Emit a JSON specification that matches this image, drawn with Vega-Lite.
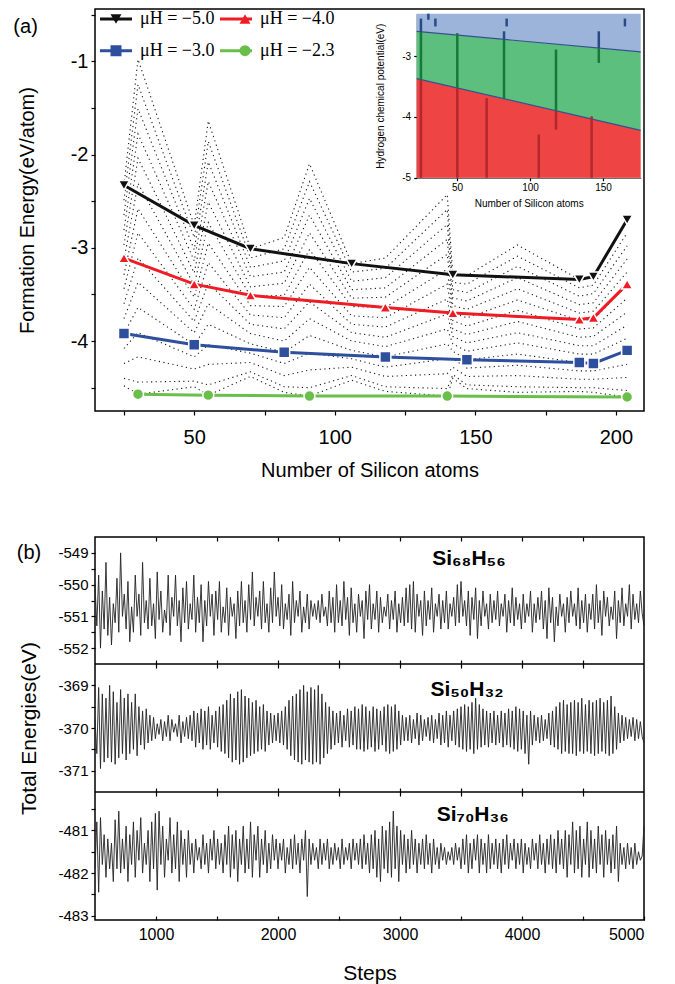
{
"$schema": "https://vega.github.io/schema/vega-lite/v6.json",
"background": "white",
"padding": {"left": 12, "top": 8, "right": 4, "bottom": 2},
"spacing": 54,
"config": {
 "font": "Liberation Sans",
 "view": {"stroke": "#000", "strokeWidth": 1.5},
 "axis": {"grid": false, "domain": false, "tickColor": "#000", "tickWidth": 1.2, "labelColor": "#000", "titleColor": "#000", "labelFont": "Liberation Sans", "titleFont": "Liberation Sans", "titleFontWeight": "normal"},
 "legend": {"labelFont": "Liberation Serif", "labelFontSize": 18, "labelColor": "#000", "padding": 0},
 "text": {"font": "Liberation Sans", "color": "#000"}
},
"resolve": {"scale": {"stroke": "independent", "fill": "independent", "shape": "independent"}, "legend": {"stroke": "independent", "fill": "independent", "shape": "independent"}},
"datasets": {
 "ser": [
  {"s":"μH = −5.0","n":25,"e":-2.33},{"s":"μH = −5.0","n":50,"e":-2.76},{"s":"μH = −5.0","n":70,"e":-3.01},{"s":"μH = −5.0","n":106,"e":-3.17},{"s":"μH = −5.0","n":142,"e":-3.29},{"s":"μH = −5.0","n":187,"e":-3.34},{"s":"μH = −5.0","n":192,"e":-3.31},{"s":"μH = −5.0","n":204,"e":-2.7},
  {"s":"μH = −4.0","n":25,"e":-3.11},{"s":"μH = −4.0","n":50,"e":-3.39},{"s":"μH = −4.0","n":70,"e":-3.51},{"s":"μH = −4.0","n":118,"e":-3.64},{"s":"μH = −4.0","n":142,"e":-3.7},{"s":"μH = −4.0","n":187,"e":-3.77},{"s":"μH = −4.0","n":192,"e":-3.75},{"s":"μH = −4.0","n":204,"e":-3.39},
  {"s":"μH = −3.0","n":25,"e":-3.92},{"s":"μH = −3.0","n":50,"e":-4.04},{"s":"μH = −3.0","n":82,"e":-4.12},{"s":"μH = −3.0","n":118,"e":-4.17},{"s":"μH = −3.0","n":147,"e":-4.2},{"s":"μH = −3.0","n":187,"e":-4.23},{"s":"μH = −3.0","n":192,"e":-4.24},{"s":"μH = −3.0","n":204,"e":-4.1},
  {"s":"μH = −2.3","n":30,"e":-4.57},{"s":"μH = −2.3","n":55,"e":-4.58},{"s":"μH = −2.3","n":91,"e":-4.59},{"s":"μH = −2.3","n":140,"e":-4.59},{"s":"μH = −2.3","n":204,"e":-4.6}
 ],
 "dots": [
  {"n":25,"m":-5,"e":-2.33},{"n":25,"m":-4.8,"e":-2.49},{"n":25,"m":-4.6,"e":-2.65},{"n":25,"m":-4.4,"e":-2.81},{"n":25,"m":-4.2,"e":-2.97},{"n":25,"m":-4,"e":-3.13},{"n":25,"m":-3.8,"e":-3.29},{"n":25,"m":-3.6,"e":-3.44},{"n":25,"m":-3.4,"e":-3.6},{"n":25,"m":-3.2,"e":-3.76},{"n":25,"m":-3,"e":-3.92},{"n":25,"m":-2.8,"e":-4.08},{"n":25,"m":-2.6,"e":-4.24},{"n":25,"m":-2.4,"e":-4.4},{"n":25,"m":-2.3,"e":-4.48},
  {"n":30,"m":-5,"e":-0.98},{"n":30,"m":-4.8,"e":-1.25},{"n":30,"m":-4.6,"e":-1.51},{"n":30,"m":-4.4,"e":-1.78},{"n":30,"m":-4.2,"e":-2.04},{"n":30,"m":-4,"e":-2.31},{"n":30,"m":-3.8,"e":-2.58},{"n":30,"m":-3.6,"e":-2.84},{"n":30,"m":-3.4,"e":-3.11},{"n":30,"m":-3.2,"e":-3.37},{"n":30,"m":-3,"e":-3.64},{"n":30,"m":-2.8,"e":-3.91},{"n":30,"m":-2.6,"e":-4.17},{"n":30,"m":-2.4,"e":-4.44},{"n":30,"m":-2.3,"e":-4.57},
  {"n":50,"m":-5,"e":-2.76},{"n":50,"m":-4.8,"e":-2.89},{"n":50,"m":-4.6,"e":-3.02},{"n":50,"m":-4.4,"e":-3.14},{"n":50,"m":-4.2,"e":-3.27},{"n":50,"m":-4,"e":-3.4},{"n":50,"m":-3.8,"e":-3.53},{"n":50,"m":-3.6,"e":-3.66},{"n":50,"m":-3.4,"e":-3.79},{"n":50,"m":-3.2,"e":-3.91},{"n":50,"m":-3,"e":-4.04},{"n":50,"m":-2.8,"e":-4.17},{"n":50,"m":-2.6,"e":-4.3},{"n":50,"m":-2.4,"e":-4.43},{"n":50,"m":-2.3,"e":-4.49},
  {"n":55,"m":-5,"e":-1.64},{"n":55,"m":-4.8,"e":-1.86},{"n":55,"m":-4.6,"e":-2.08},{"n":55,"m":-4.4,"e":-2.29},{"n":55,"m":-4.2,"e":-2.51},{"n":55,"m":-4,"e":-2.73},{"n":55,"m":-3.8,"e":-2.95},{"n":55,"m":-3.6,"e":-3.16},{"n":55,"m":-3.4,"e":-3.38},{"n":55,"m":-3.2,"e":-3.6},{"n":55,"m":-3,"e":-3.82},{"n":55,"m":-2.8,"e":-4.04},{"n":55,"m":-2.6,"e":-4.25},{"n":55,"m":-2.4,"e":-4.47},{"n":55,"m":-2.3,"e":-4.58},
  {"n":70,"m":-5,"e":-3.01},{"n":70,"m":-4.8,"e":-3.11},{"n":70,"m":-4.6,"e":-3.21},{"n":70,"m":-4.4,"e":-3.31},{"n":70,"m":-4.2,"e":-3.42},{"n":70,"m":-4,"e":-3.52},{"n":70,"m":-3.8,"e":-3.62},{"n":70,"m":-3.6,"e":-3.72},{"n":70,"m":-3.4,"e":-3.82},{"n":70,"m":-3.2,"e":-3.92},{"n":70,"m":-3,"e":-4.03},{"n":70,"m":-2.8,"e":-4.13},{"n":70,"m":-2.6,"e":-4.23},{"n":70,"m":-2.4,"e":-4.33},{"n":70,"m":-2.3,"e":-4.38},
  {"n":82,"m":-5,"e":-2.89},{"n":82,"m":-4.8,"e":-3.01},{"n":82,"m":-4.6,"e":-3.14},{"n":82,"m":-4.4,"e":-3.26},{"n":82,"m":-4.2,"e":-3.38},{"n":82,"m":-4,"e":-3.51},{"n":82,"m":-3.8,"e":-3.63},{"n":82,"m":-3.6,"e":-3.75},{"n":82,"m":-3.4,"e":-3.87},{"n":82,"m":-3.2,"e":-4.0},{"n":82,"m":-3,"e":-4.12},{"n":82,"m":-2.8,"e":-4.24},{"n":82,"m":-2.6,"e":-4.37},{"n":82,"m":-2.4,"e":-4.49},{"n":82,"m":-2.3,"e":-4.55},
  {"n":91,"m":-5,"e":-2.1},{"n":91,"m":-4.8,"e":-2.29},{"n":91,"m":-4.6,"e":-2.47},{"n":91,"m":-4.4,"e":-2.65},{"n":91,"m":-4.2,"e":-2.84},{"n":91,"m":-4,"e":-3.02},{"n":91,"m":-3.8,"e":-3.21},{"n":91,"m":-3.6,"e":-3.39},{"n":91,"m":-3.4,"e":-3.58},{"n":91,"m":-3.2,"e":-3.76},{"n":91,"m":-3,"e":-3.94},{"n":91,"m":-2.8,"e":-4.13},{"n":91,"m":-2.6,"e":-4.31},{"n":91,"m":-2.4,"e":-4.5},{"n":91,"m":-2.3,"e":-4.59},
  {"n":106,"m":-5,"e":-3.17},{"n":106,"m":-4.8,"e":-3.26},{"n":106,"m":-4.6,"e":-3.36},{"n":106,"m":-4.4,"e":-3.45},{"n":106,"m":-4.2,"e":-3.54},{"n":106,"m":-4,"e":-3.63},{"n":106,"m":-3.8,"e":-3.73},{"n":106,"m":-3.6,"e":-3.82},{"n":106,"m":-3.4,"e":-3.91},{"n":106,"m":-3.2,"e":-4.0},{"n":106,"m":-3,"e":-4.1},{"n":106,"m":-2.8,"e":-4.19},{"n":106,"m":-2.6,"e":-4.28},{"n":106,"m":-2.4,"e":-4.37},{"n":106,"m":-2.3,"e":-4.42},
  {"n":118,"m":-5,"e":-3.11},{"n":118,"m":-4.8,"e":-3.22},{"n":118,"m":-4.6,"e":-3.32},{"n":118,"m":-4.4,"e":-3.43},{"n":118,"m":-4.2,"e":-3.53},{"n":118,"m":-4,"e":-3.64},{"n":118,"m":-3.8,"e":-3.75},{"n":118,"m":-3.6,"e":-3.85},{"n":118,"m":-3.4,"e":-3.96},{"n":118,"m":-3.2,"e":-4.06},{"n":118,"m":-3,"e":-4.17},{"n":118,"m":-2.8,"e":-4.28},{"n":118,"m":-2.6,"e":-4.38},{"n":118,"m":-2.4,"e":-4.49},{"n":118,"m":-2.3,"e":-4.54},
  {"n":140,"m":-5,"e":-2.43},{"n":140,"m":-4.8,"e":-2.59},{"n":140,"m":-4.6,"e":-2.75},{"n":140,"m":-4.4,"e":-2.91},{"n":140,"m":-4.2,"e":-3.07},{"n":140,"m":-4,"e":-3.23},{"n":140,"m":-3.8,"e":-3.39},{"n":140,"m":-3.6,"e":-3.55},{"n":140,"m":-3.4,"e":-3.71},{"n":140,"m":-3.2,"e":-3.87},{"n":140,"m":-3,"e":-4.03},{"n":140,"m":-2.8,"e":-4.19},{"n":140,"m":-2.6,"e":-4.35},{"n":140,"m":-2.4,"e":-4.51},{"n":140,"m":-2.3,"e":-4.59},
  {"n":142,"m":-5,"e":-3.29},{"n":142,"m":-4.8,"e":-3.37},{"n":142,"m":-4.6,"e":-3.45},{"n":142,"m":-4.4,"e":-3.54},{"n":142,"m":-4.2,"e":-3.62},{"n":142,"m":-4,"e":-3.7},{"n":142,"m":-3.8,"e":-3.78},{"n":142,"m":-3.6,"e":-3.87},{"n":142,"m":-3.4,"e":-3.95},{"n":142,"m":-3.2,"e":-4.03},{"n":142,"m":-3,"e":-4.11},{"n":142,"m":-2.8,"e":-4.19},{"n":142,"m":-2.6,"e":-4.28},{"n":142,"m":-2.4,"e":-4.36},{"n":142,"m":-2.3,"e":-4.4},
  {"n":147,"m":-5,"e":-3.3},{"n":147,"m":-4.8,"e":-3.39},{"n":147,"m":-4.6,"e":-3.48},{"n":147,"m":-4.4,"e":-3.57},{"n":147,"m":-4.2,"e":-3.66},{"n":147,"m":-4,"e":-3.75},{"n":147,"m":-3.8,"e":-3.84},{"n":147,"m":-3.6,"e":-3.93},{"n":147,"m":-3.4,"e":-4.02},{"n":147,"m":-3.2,"e":-4.11},{"n":147,"m":-3,"e":-4.2},{"n":147,"m":-2.8,"e":-4.29},{"n":147,"m":-2.6,"e":-4.38},{"n":147,"m":-2.4,"e":-4.47},{"n":147,"m":-2.3,"e":-4.51},
  {"n":165,"m":-5,"e":-2.97},{"n":165,"m":-4.8,"e":-3.09},{"n":165,"m":-4.6,"e":-3.2},{"n":165,"m":-4.4,"e":-3.32},{"n":165,"m":-4.2,"e":-3.44},{"n":165,"m":-4,"e":-3.56},{"n":165,"m":-3.8,"e":-3.67},{"n":165,"m":-3.6,"e":-3.79},{"n":165,"m":-3.4,"e":-3.91},{"n":165,"m":-3.2,"e":-4.02},{"n":165,"m":-3,"e":-4.14},{"n":165,"m":-2.8,"e":-4.26},{"n":165,"m":-2.6,"e":-4.37},{"n":165,"m":-2.4,"e":-4.49},{"n":165,"m":-2.3,"e":-4.55},
  {"n":187,"m":-5,"e":-3.34},{"n":187,"m":-4.8,"e":-3.43},{"n":187,"m":-4.6,"e":-3.52},{"n":187,"m":-4.4,"e":-3.61},{"n":187,"m":-4.2,"e":-3.7},{"n":187,"m":-4,"e":-3.78},{"n":187,"m":-3.8,"e":-3.87},{"n":187,"m":-3.6,"e":-3.96},{"n":187,"m":-3.4,"e":-4.05},{"n":187,"m":-3.2,"e":-4.14},{"n":187,"m":-3,"e":-4.23},{"n":187,"m":-2.8,"e":-4.32},{"n":187,"m":-2.6,"e":-4.41},{"n":187,"m":-2.4,"e":-4.5},{"n":187,"m":-2.3,"e":-4.54},
  {"n":192,"m":-5,"e":-3.31},{"n":192,"m":-4.8,"e":-3.4},{"n":192,"m":-4.6,"e":-3.49},{"n":192,"m":-4.4,"e":-3.59},{"n":192,"m":-4.2,"e":-3.68},{"n":192,"m":-4,"e":-3.77},{"n":192,"m":-3.8,"e":-3.86},{"n":192,"m":-3.6,"e":-3.95},{"n":192,"m":-3.4,"e":-4.05},{"n":192,"m":-3.2,"e":-4.14},{"n":192,"m":-3,"e":-4.23},{"n":192,"m":-2.8,"e":-4.32},{"n":192,"m":-2.6,"e":-4.41},{"n":192,"m":-2.4,"e":-4.5},{"n":192,"m":-2.3,"e":-4.55},
  {"n":204,"m":-5,"e":-2.7},{"n":204,"m":-4.8,"e":-2.84},{"n":204,"m":-4.6,"e":-2.98},{"n":204,"m":-4.4,"e":-3.12},{"n":204,"m":-4.2,"e":-3.26},{"n":204,"m":-4,"e":-3.4},{"n":204,"m":-3.8,"e":-3.54},{"n":204,"m":-3.6,"e":-3.69},{"n":204,"m":-3.4,"e":-3.83},{"n":204,"m":-3.2,"e":-3.97},{"n":204,"m":-3,"e":-4.11},{"n":204,"m":-2.8,"e":-4.25},{"n":204,"m":-2.6,"e":-4.39},{"n":204,"m":-2.4,"e":-4.53},{"n":204,"m":-2.3,"e":-4.6}
 ],
 "zones": [
  {"z":"b","n":22.4,"lo":-2.59,"hi":-2.3},{"z":"b","n":175.8,"lo":-2.93,"hi":-2.3},
  {"z":"g","n":22.4,"lo":-3.37,"hi":-2.59},{"z":"g","n":175.8,"lo":-4.22,"hi":-2.93},
  {"z":"r","n":22.4,"lo":-5,"hi":-3.37},{"z":"r","n":175.8,"lo":-5,"hi":-4.22}
 ],
 "segs": [
  {"z":"b","n":25.3,"lo":-2.6,"hi":-2.38},{"z":"g","n":25.3,"lo":-3.39,"hi":-2.6},{"z":"r","n":25.3,"lo":-5,"hi":-3.39},
  {"z":"b","n":30.4,"lo":-2.4,"hi":-2.3},
  {"z":"b","n":35.2,"lo":-2.51,"hi":-2.38},
  {"z":"g","n":50.2,"lo":-3.52,"hi":-2.62},{"z":"r","n":50.2,"lo":-5,"hi":-3.52},
  {"z":"r","n":70.3,"lo":-5,"hi":-3.69},
  {"z":"b","n":82.2,"lo":-2.72,"hi":-2.59},{"z":"g","n":82.2,"lo":-3.7,"hi":-2.72},
  {"z":"b","n":84,"lo":-2.51,"hi":-2.38},
  {"z":"r","n":106,"lo":-5,"hi":-4.29},
  {"z":"g","n":117.8,"lo":-3.9,"hi":-2.89},{"z":"r","n":117.8,"lo":-4.21,"hi":-3.9},
  {"z":"r","n":142.2,"lo":-5,"hi":-3.99},
  {"z":"b","n":147.1,"lo":-2.87,"hi":-2.59},{"z":"g","n":147.1,"lo":-3.11,"hi":-2.87},
  {"z":"b","n":165,"lo":-2.51,"hi":-2.38}
 ],
 "p1": [
  {"t":500,"e":-550.0},{"t":515,"e":-551.3},{"t":530,"e":-549.7},{"t":545,"e":-552.0},{"t":560,"e":-550.2},{"t":575,"e":-551.4},{"t":590,"e":-549.3},{"t":605,"e":-551.6},{"t":620,"e":-550.4},{"t":635,"e":-551.9},
  {"t":650,"e":-550.6},{"t":665,"e":-551.2},{"t":680,"e":-549.8},{"t":695,"e":-551.5},{"t":710,"e":-549.0},{"t":725,"e":-551.0},{"t":740,"e":-550.3},{"t":755,"e":-551.4},{"t":770,"e":-549.9},{"t":785,"e":-551.8},
  {"t":800,"e":-550.7},{"t":815,"e":-551.5},{"t":830,"e":-549.7},{"t":845,"e":-551.0},{"t":860,"e":-550.3},{"t":875,"e":-551.6},{"t":890,"e":-549.3},{"t":905,"e":-551.2},{"t":920,"e":-550.5},{"t":935,"e":-551.4},
  {"t":950,"e":-549.8},{"t":965,"e":-551.3},{"t":980,"e":-550.6},{"t":995,"e":-551.7},{"t":1010,"e":-549.6},{"t":1025,"e":-551.1},{"t":1040,"e":-550.2},{"t":1055,"e":-551.5},{"t":1070,"e":-550.8},{"t":1085,"e":-551.2},
  {"t":1100,"e":-549.7},{"t":1115,"e":-551.6},{"t":1130,"e":-550.4},{"t":1145,"e":-551.0},{"t":1160,"e":-549.7},{"t":1175,"e":-551.3},{"t":1190,"e":-550.5},{"t":1205,"e":-551.8},{"t":1220,"e":-550.1},{"t":1235,"e":-551.2},
  {"t":1250,"e":-549.9},{"t":1265,"e":-551.4},{"t":1280,"e":-550.6},{"t":1295,"e":-551.1},{"t":1310,"e":-549.7},{"t":1325,"e":-551.5},{"t":1340,"e":-550.4},{"t":1355,"e":-551.2},{"t":1370,"e":-550.0},{"t":1385,"e":-551.8},
  {"t":1400,"e":-550.5},{"t":1415,"e":-551.3},{"t":1430,"e":-549.9},{"t":1445,"e":-551.0},{"t":1460,"e":-550.3},{"t":1475,"e":-551.6},{"t":1490,"e":-550.2},{"t":1505,"e":-551.1},{"t":1520,"e":-549.9},{"t":1535,"e":-551.5},
  {"t":1550,"e":-550.7},{"t":1565,"e":-551.2},{"t":1580,"e":-550.1},{"t":1595,"e":-551.6},{"t":1610,"e":-550.4},{"t":1625,"e":-551.0},{"t":1640,"e":-550.6},{"t":1655,"e":-551.7},{"t":1670,"e":-550.2},{"t":1685,"e":-551.3},
  {"t":1700,"e":-549.9},{"t":1715,"e":-551.2},{"t":1730,"e":-550.5},{"t":1745,"e":-551.5},{"t":1760,"e":-550.0},{"t":1775,"e":-551.1},{"t":1790,"e":-549.6},{"t":1805,"e":-551.3},{"t":1820,"e":-550.4},{"t":1835,"e":-551.0},
  {"t":1850,"e":-550.2},{"t":1865,"e":-551.4},{"t":1880,"e":-549.9},{"t":1895,"e":-551.2},{"t":1910,"e":-550.6},{"t":1925,"e":-551.5},{"t":1940,"e":-550.1},{"t":1955,"e":-551.2},{"t":1970,"e":-549.6},{"t":1985,"e":-551.0},
  {"t":2000,"e":-550.4},{"t":2015,"e":-551.3},{"t":2030,"e":-550.0},{"t":2045,"e":-551.4},{"t":2060,"e":-550.6},{"t":2075,"e":-551.1},{"t":2090,"e":-550.3},{"t":2105,"e":-551.6},{"t":2120,"e":-549.9},{"t":2135,"e":-551.2},
  {"t":2150,"e":-550.5},{"t":2165,"e":-551.0},{"t":2180,"e":-550.2},{"t":2195,"e":-551.5},{"t":2210,"e":-550.7},{"t":2225,"e":-551.2},{"t":2240,"e":-550.3},{"t":2255,"e":-551.4},{"t":2270,"e":-550.5},{"t":2285,"e":-551.0},
  {"t":2300,"e":-550.6},{"t":2315,"e":-551.1},{"t":2330,"e":-550.5},{"t":2345,"e":-551.2},{"t":2360,"e":-550.3},{"t":2375,"e":-551.0},{"t":2390,"e":-550.7},{"t":2405,"e":-551.3},{"t":2420,"e":-550.2},{"t":2435,"e":-551.2},
  {"t":2450,"e":-550.4},{"t":2465,"e":-551.5},{"t":2480,"e":-550.0},{"t":2495,"e":-551.2},{"t":2510,"e":-550.5},{"t":2525,"e":-551.3},{"t":2540,"e":-549.9},{"t":2555,"e":-551.1},{"t":2570,"e":-550.4},{"t":2585,"e":-551.6},
  {"t":2600,"e":-550.1},{"t":2615,"e":-551.2},{"t":2630,"e":-550.6},{"t":2645,"e":-551.5},{"t":2660,"e":-550.3},{"t":2675,"e":-551.0},{"t":2690,"e":-550.5},{"t":2705,"e":-551.7},{"t":2720,"e":-550.2},{"t":2735,"e":-551.1},
  {"t":2750,"e":-550.0},{"t":2765,"e":-551.4},{"t":2780,"e":-550.6},{"t":2795,"e":-551.1},{"t":2810,"e":-550.2},{"t":2825,"e":-551.5},{"t":2840,"e":-550.4},{"t":2855,"e":-551.2},{"t":2870,"e":-550.7},{"t":2885,"e":-551.0},
  {"t":2900,"e":-550.3},{"t":2915,"e":-551.4},{"t":2930,"e":-550.5},{"t":2945,"e":-551.1},{"t":2960,"e":-550.2},{"t":2975,"e":-551.5},{"t":2990,"e":-550.6},{"t":3005,"e":-551.2},{"t":3020,"e":-550.4},{"t":3035,"e":-551.3},
  {"t":3050,"e":-550.1},{"t":3065,"e":-551.2},{"t":3080,"e":-550.0},{"t":3095,"e":-551.4},{"t":3110,"e":-549.9},{"t":3125,"e":-551.5},{"t":3140,"e":-550.3},{"t":3155,"e":-551.0},{"t":3170,"e":-550.5},{"t":3185,"e":-551.6},
  {"t":3200,"e":-550.2},{"t":3215,"e":-551.3},{"t":3230,"e":-550.5},{"t":3245,"e":-551.1},{"t":3260,"e":-550.1},{"t":3275,"e":-551.5},{"t":3290,"e":-550.6},{"t":3305,"e":-551.0},{"t":3320,"e":-550.3},{"t":3335,"e":-551.4},
  {"t":3350,"e":-550.5},{"t":3365,"e":-551.2},{"t":3380,"e":-550.2},{"t":3395,"e":-551.4},{"t":3410,"e":-550.6},{"t":3425,"e":-551.0},{"t":3440,"e":-550.4},{"t":3455,"e":-551.3},{"t":3470,"e":-550.0},{"t":3485,"e":-551.2},
  {"t":3500,"e":-549.9},{"t":3515,"e":-551.0},{"t":3530,"e":-550.5},{"t":3545,"e":-551.3},{"t":3560,"e":-550.2},{"t":3575,"e":-551.6},{"t":3590,"e":-550.4},{"t":3605,"e":-551.1},{"t":3620,"e":-550.1},{"t":3635,"e":-551.7},
  {"t":3650,"e":-550.5},{"t":3665,"e":-551.3},{"t":3680,"e":-550.2},{"t":3695,"e":-551.0},{"t":3710,"e":-550.6},{"t":3725,"e":-551.4},{"t":3740,"e":-550.3},{"t":3755,"e":-551.2},{"t":3770,"e":-550.5},{"t":3785,"e":-551.1},
  {"t":3800,"e":-550.2},{"t":3815,"e":-551.3},{"t":3830,"e":-550.6},{"t":3845,"e":-551.0},{"t":3860,"e":-550.3},{"t":3875,"e":-551.5},{"t":3890,"e":-550.5},{"t":3905,"e":-551.2},{"t":3920,"e":-550.1},{"t":3935,"e":-551.3},
  {"t":3950,"e":-550.4},{"t":3965,"e":-551.1},{"t":3980,"e":-550.6},{"t":3995,"e":-551.4},{"t":4010,"e":-550.3},{"t":4025,"e":-551.2},{"t":4040,"e":-550.6},{"t":4055,"e":-551.0},{"t":4070,"e":-550.2},{"t":4085,"e":-551.5},
  {"t":4100,"e":-550.6},{"t":4115,"e":-551.2},{"t":4130,"e":-550.4},{"t":4145,"e":-551.1},{"t":4160,"e":-550.2},{"t":4175,"e":-551.4},{"t":4190,"e":-550.5},{"t":4205,"e":-551.7},{"t":4220,"e":-550.1},{"t":4235,"e":-551.2},
  {"t":4250,"e":-550.4},{"t":4265,"e":-551.8},{"t":4280,"e":-550.7},{"t":4295,"e":-551.3},{"t":4310,"e":-550.3},{"t":4325,"e":-551.0},{"t":4340,"e":-550.6},{"t":4355,"e":-551.5},{"t":4370,"e":-550.4},{"t":4385,"e":-551.2},
  {"t":4400,"e":-550.2},{"t":4415,"e":-551.0},{"t":4430,"e":-550.6},{"t":4445,"e":-551.3},{"t":4460,"e":-550.1},{"t":4475,"e":-551.4},{"t":4490,"e":-550.5},{"t":4505,"e":-551.2},{"t":4520,"e":-550.3},{"t":4535,"e":-551.5},
  {"t":4550,"e":-550.6},{"t":4565,"e":-551.1},{"t":4580,"e":-550.3},{"t":4595,"e":-551.4},{"t":4610,"e":-550.0},{"t":4625,"e":-551.2},{"t":4640,"e":-550.5},{"t":4655,"e":-551.6},{"t":4670,"e":-550.2},{"t":4685,"e":-551.0},
  {"t":4700,"e":-550.4},{"t":4715,"e":-551.3},{"t":4730,"e":-550.7},{"t":4745,"e":-551.1},{"t":4760,"e":-550.2},{"t":4775,"e":-551.7},{"t":4790,"e":-550.5},{"t":4805,"e":-551.2},{"t":4820,"e":-550.1},{"t":4835,"e":-551.3},
  {"t":4850,"e":-550.6},{"t":4865,"e":-551.0},{"t":4880,"e":-550.0},{"t":4895,"e":-551.4},{"t":4910,"e":-550.3},{"t":4925,"e":-551.1},{"t":4940,"e":-550.6},{"t":4955,"e":-551.2},{"t":4970,"e":-550.2},{"t":4985,"e":-550.9},
  {"t":5000,"e":-551.3}
 ],
 "p2": [
  {"t":500,"e":-369.8},{"t":515,"e":-370.6},{"t":530,"e":-369.05},{"t":545,"e":-370.95},{"t":560,"e":-369.2},{"t":575,"e":-370.8},{"t":590,"e":-369.3},{"t":605,"e":-370.7},{"t":620,"e":-369.0},{"t":635,"e":-370.8},
  {"t":650,"e":-369.15},{"t":665,"e":-370.85},{"t":680,"e":-369.4},{"t":695,"e":-370.7},{"t":710,"e":-369.1},{"t":725,"e":-370.6},{"t":740,"e":-369.3},{"t":755,"e":-370.75},{"t":770,"e":-369.2},{"t":785,"e":-370.6},
  {"t":800,"e":-369.4},{"t":815,"e":-370.5},{"t":830,"e":-369.2},{"t":845,"e":-370.65},{"t":860,"e":-369.5},{"t":875,"e":-370.4},{"t":890,"e":-369.6},{"t":905,"e":-370.5},{"t":920,"e":-369.55},{"t":935,"e":-370.35},
  {"t":950,"e":-369.7},{"t":965,"e":-370.3},{"t":980,"e":-369.75},{"t":995,"e":-370.25},{"t":1010,"e":-369.9},{"t":1025,"e":-370.15},{"t":1040,"e":-369.8},{"t":1055,"e":-370.3},{"t":1070,"e":-369.85},{"t":1085,"e":-370.2},
  {"t":1100,"e":-369.7},{"t":1115,"e":-370.3},{"t":1130,"e":-369.8},{"t":1145,"e":-370.1},{"t":1160,"e":-369.9},{"t":1175,"e":-370.2},{"t":1190,"e":-369.7},{"t":1205,"e":-370.35},{"t":1220,"e":-369.85},{"t":1235,"e":-370.2},
  {"t":1250,"e":-369.75},{"t":1265,"e":-370.25},{"t":1280,"e":-369.7},{"t":1295,"e":-370.3},{"t":1310,"e":-369.6},{"t":1325,"e":-370.45},{"t":1340,"e":-369.65},{"t":1355,"e":-370.35},{"t":1370,"e":-369.55},{"t":1385,"e":-370.5},
  {"t":1400,"e":-369.6},{"t":1415,"e":-370.4},{"t":1430,"e":-369.5},{"t":1445,"e":-370.5},{"t":1460,"e":-369.7},{"t":1475,"e":-370.35},{"t":1490,"e":-369.6},{"t":1505,"e":-370.45},{"t":1520,"e":-369.5},{"t":1535,"e":-370.55},
  {"t":1550,"e":-369.45},{"t":1565,"e":-370.6},{"t":1580,"e":-369.35},{"t":1595,"e":-370.7},{"t":1610,"e":-369.2},{"t":1625,"e":-370.8},{"t":1640,"e":-369.3},{"t":1655,"e":-370.75},{"t":1670,"e":-369.15},{"t":1685,"e":-370.85},
  {"t":1700,"e":-369.1},{"t":1715,"e":-370.8},{"t":1730,"e":-369.25},{"t":1745,"e":-370.7},{"t":1760,"e":-369.3},{"t":1775,"e":-370.65},{"t":1790,"e":-369.4},{"t":1805,"e":-370.6},{"t":1820,"e":-369.35},{"t":1835,"e":-370.55},
  {"t":1850,"e":-369.5},{"t":1865,"e":-370.5},{"t":1880,"e":-369.45},{"t":1895,"e":-370.55},{"t":1910,"e":-369.6},{"t":1925,"e":-370.4},{"t":1940,"e":-369.65},{"t":1955,"e":-370.35},{"t":1970,"e":-369.7},{"t":1985,"e":-370.3},
  {"t":2000,"e":-369.65},{"t":2015,"e":-370.35},{"t":2030,"e":-369.6},{"t":2045,"e":-370.4},{"t":2060,"e":-369.5},{"t":2075,"e":-370.5},{"t":2090,"e":-369.35},{"t":2105,"e":-370.65},{"t":2120,"e":-369.25},{"t":2135,"e":-370.75},
  {"t":2150,"e":-369.2},{"t":2165,"e":-370.8},{"t":2180,"e":-369.1},{"t":2195,"e":-370.85},{"t":2210,"e":-369.0},{"t":2225,"e":-370.75},{"t":2240,"e":-369.15},{"t":2255,"e":-370.8},{"t":2270,"e":-369.05},{"t":2285,"e":-370.85},
  {"t":2300,"e":-369.1},{"t":2315,"e":-370.8},{"t":2330,"e":-369.0},{"t":2345,"e":-370.85},{"t":2360,"e":-369.2},{"t":2375,"e":-370.7},{"t":2390,"e":-369.4},{"t":2405,"e":-370.6},{"t":2420,"e":-369.5},{"t":2435,"e":-370.5},
  {"t":2450,"e":-369.6},{"t":2465,"e":-370.4},{"t":2480,"e":-369.65},{"t":2495,"e":-370.35},{"t":2510,"e":-369.6},{"t":2525,"e":-370.45},{"t":2540,"e":-369.7},{"t":2555,"e":-370.3},{"t":2570,"e":-369.55},{"t":2585,"e":-370.45},
  {"t":2600,"e":-369.6},{"t":2615,"e":-370.4},{"t":2630,"e":-369.5},{"t":2645,"e":-370.5},{"t":2660,"e":-369.55},{"t":2675,"e":-370.5},{"t":2690,"e":-369.45},{"t":2705,"e":-370.55},{"t":2720,"e":-369.5},{"t":2735,"e":-370.5},
  {"t":2750,"e":-369.6},{"t":2765,"e":-370.45},{"t":2780,"e":-369.5},{"t":2795,"e":-370.55},{"t":2810,"e":-369.55},{"t":2825,"e":-370.5},{"t":2840,"e":-369.6},{"t":2855,"e":-370.4},{"t":2870,"e":-369.5},{"t":2885,"e":-370.55},
  {"t":2900,"e":-369.45},{"t":2915,"e":-370.6},{"t":2930,"e":-369.5},{"t":2945,"e":-370.55},{"t":2960,"e":-369.45},{"t":2975,"e":-370.5},{"t":2990,"e":-369.6},{"t":3005,"e":-370.4},{"t":3020,"e":-369.7},{"t":3035,"e":-370.3},
  {"t":3050,"e":-369.75},{"t":3065,"e":-370.3},{"t":3080,"e":-369.7},{"t":3095,"e":-370.35},{"t":3110,"e":-369.8},{"t":3125,"e":-370.25},{"t":3140,"e":-369.65},{"t":3155,"e":-370.4},{"t":3170,"e":-369.7},{"t":3185,"e":-370.3},
  {"t":3200,"e":-369.8},{"t":3215,"e":-370.2},{"t":3230,"e":-369.75},{"t":3245,"e":-370.3},{"t":3260,"e":-369.7},{"t":3275,"e":-370.35},{"t":3290,"e":-369.8},{"t":3305,"e":-370.25},{"t":3320,"e":-369.65},{"t":3335,"e":-370.4},
  {"t":3350,"e":-369.7},{"t":3365,"e":-370.35},{"t":3380,"e":-369.6},{"t":3395,"e":-370.45},{"t":3410,"e":-369.7},{"t":3425,"e":-370.3},{"t":3440,"e":-369.6},{"t":3455,"e":-370.4},{"t":3470,"e":-369.55},{"t":3485,"e":-370.45},
  {"t":3500,"e":-369.5},{"t":3515,"e":-370.5},{"t":3530,"e":-369.45},{"t":3545,"e":-370.55},{"t":3560,"e":-369.5},{"t":3575,"e":-370.5},{"t":3590,"e":-369.4},{"t":3605,"e":-370.6},{"t":3620,"e":-369.3},{"t":3635,"e":-370.5},
  {"t":3650,"e":-369.45},{"t":3665,"e":-370.45},{"t":3680,"e":-369.55},{"t":3695,"e":-370.4},{"t":3710,"e":-369.6},{"t":3725,"e":-370.45},{"t":3740,"e":-369.65},{"t":3755,"e":-370.35},{"t":3770,"e":-369.6},{"t":3785,"e":-370.4},
  {"t":3800,"e":-369.7},{"t":3815,"e":-370.35},{"t":3830,"e":-369.6},{"t":3845,"e":-370.45},{"t":3860,"e":-369.65},{"t":3875,"e":-370.4},{"t":3890,"e":-369.55},{"t":3905,"e":-370.45},{"t":3920,"e":-369.6},{"t":3935,"e":-370.5},
  {"t":3950,"e":-369.5},{"t":3965,"e":-370.55},{"t":3980,"e":-369.55},{"t":3995,"e":-370.5},{"t":4010,"e":-369.6},{"t":4025,"e":-370.6},{"t":4040,"e":-369.7},{"t":4055,"e":-370.85},{"t":4070,"e":-369.6},{"t":4085,"e":-370.4},
  {"t":4100,"e":-369.7},{"t":4115,"e":-370.3},{"t":4130,"e":-369.75},{"t":4145,"e":-370.35},{"t":4160,"e":-369.7},{"t":4175,"e":-370.3},{"t":4190,"e":-369.8},{"t":4205,"e":-370.25},{"t":4220,"e":-369.65},{"t":4235,"e":-370.4},
  {"t":4250,"e":-369.6},{"t":4265,"e":-370.45},{"t":4280,"e":-369.5},{"t":4295,"e":-370.5},{"t":4310,"e":-369.4},{"t":4325,"e":-370.6},{"t":4340,"e":-369.35},{"t":4355,"e":-370.55},{"t":4370,"e":-369.45},{"t":4385,"e":-370.6},
  {"t":4400,"e":-369.4},{"t":4415,"e":-370.6},{"t":4430,"e":-369.35},{"t":4445,"e":-370.65},{"t":4460,"e":-369.4},{"t":4475,"e":-370.55},{"t":4490,"e":-369.3},{"t":4505,"e":-370.6},{"t":4520,"e":-369.45},{"t":4535,"e":-370.55},
  {"t":4550,"e":-369.35},{"t":4565,"e":-370.6},{"t":4580,"e":-369.4},{"t":4595,"e":-370.65},{"t":4610,"e":-369.35},{"t":4625,"e":-370.6},{"t":4640,"e":-369.3},{"t":4655,"e":-370.55},{"t":4670,"e":-369.4},{"t":4685,"e":-370.6},
  {"t":4700,"e":-369.35},{"t":4715,"e":-370.65},{"t":4730,"e":-369.25},{"t":4745,"e":-370.6},{"t":4760,"e":-369.5},{"t":4775,"e":-370.5},{"t":4790,"e":-369.65},{"t":4805,"e":-370.35},{"t":4820,"e":-369.7},{"t":4835,"e":-370.3},
  {"t":4850,"e":-369.75},{"t":4865,"e":-370.25},{"t":4880,"e":-369.8},{"t":4895,"e":-370.2},{"t":4910,"e":-369.75},{"t":4925,"e":-370.3},{"t":4940,"e":-369.8},{"t":4955,"e":-370.25},{"t":4970,"e":-369.85},{"t":4985,"e":-370.2},
  {"t":5000,"e":-370.35}
 ],
 "p3": [
  {"t":500,"e":-481.9},{"t":515,"e":-480.8},{"t":530,"e":-482.45},{"t":545,"e":-480.7},{"t":560,"e":-481.8},{"t":575,"e":-481.1},{"t":590,"e":-482.1},{"t":605,"e":-481.2},{"t":620,"e":-481.9},{"t":635,"e":-481.3},
  {"t":650,"e":-482.2},{"t":665,"e":-480.75},{"t":680,"e":-481.9},{"t":695,"e":-480.55},{"t":710,"e":-482.0},{"t":725,"e":-481.2},{"t":740,"e":-481.9},{"t":755,"e":-480.9},{"t":770,"e":-482.2},{"t":785,"e":-481.1},
  {"t":800,"e":-481.8},{"t":815,"e":-480.8},{"t":830,"e":-482.1},{"t":845,"e":-481.0},{"t":860,"e":-481.7},{"t":875,"e":-480.7},{"t":890,"e":-482.0},{"t":905,"e":-481.3},{"t":920,"e":-481.8},{"t":935,"e":-481.0},
  {"t":950,"e":-482.2},{"t":965,"e":-480.8},{"t":980,"e":-481.9},{"t":995,"e":-480.6},{"t":1010,"e":-482.4},{"t":1025,"e":-480.55},{"t":1040,"e":-481.8},{"t":1055,"e":-480.9},{"t":1070,"e":-482.1},{"t":1085,"e":-481.2},
  {"t":1100,"e":-481.7},{"t":1115,"e":-480.7},{"t":1130,"e":-482.0},{"t":1145,"e":-481.1},{"t":1160,"e":-481.9},{"t":1175,"e":-480.8},{"t":1190,"e":-482.2},{"t":1205,"e":-481.0},{"t":1220,"e":-481.8},{"t":1235,"e":-481.2},
  {"t":1250,"e":-482.1},{"t":1265,"e":-481.0},{"t":1280,"e":-481.8},{"t":1295,"e":-481.3},{"t":1310,"e":-482.0},{"t":1325,"e":-481.2},{"t":1340,"e":-481.7},{"t":1355,"e":-481.4},{"t":1370,"e":-481.9},{"t":1385,"e":-481.1},
  {"t":1400,"e":-481.8},{"t":1415,"e":-481.3},{"t":1430,"e":-482.0},{"t":1445,"e":-481.2},{"t":1460,"e":-481.7},{"t":1475,"e":-481.0},{"t":1490,"e":-481.9},{"t":1505,"e":-481.2},{"t":1520,"e":-481.8},{"t":1535,"e":-481.3},
  {"t":1550,"e":-482.0},{"t":1565,"e":-481.1},{"t":1580,"e":-481.8},{"t":1595,"e":-480.9},{"t":1610,"e":-482.1},{"t":1625,"e":-481.1},{"t":1640,"e":-481.9},{"t":1655,"e":-481.0},{"t":1670,"e":-482.2},{"t":1685,"e":-481.2},
  {"t":1700,"e":-481.8},{"t":1715,"e":-480.9},{"t":1730,"e":-482.0},{"t":1745,"e":-481.2},{"t":1760,"e":-481.9},{"t":1775,"e":-480.8},{"t":1790,"e":-482.1},{"t":1805,"e":-481.1},{"t":1820,"e":-481.7},{"t":1835,"e":-480.9},
  {"t":1850,"e":-482.1},{"t":1865,"e":-481.2},{"t":1880,"e":-481.8},{"t":1895,"e":-481.0},{"t":1910,"e":-482.0},{"t":1925,"e":-481.3},{"t":1940,"e":-481.9},{"t":1955,"e":-481.1},{"t":1970,"e":-481.7},{"t":1985,"e":-481.2},
  {"t":2000,"e":-481.9},{"t":2015,"e":-481.3},{"t":2030,"e":-481.7},{"t":2045,"e":-481.2},{"t":2060,"e":-482.0},{"t":2075,"e":-481.4},{"t":2090,"e":-481.8},{"t":2105,"e":-481.2},{"t":2120,"e":-481.9},{"t":2135,"e":-481.1},
  {"t":2150,"e":-481.8},{"t":2165,"e":-481.3},{"t":2180,"e":-482.0},{"t":2195,"e":-481.2},{"t":2210,"e":-481.7},{"t":2225,"e":-481.0},{"t":2240,"e":-482.55},{"t":2255,"e":-481.2},{"t":2270,"e":-481.8},{"t":2285,"e":-481.3},
  {"t":2300,"e":-481.7},{"t":2315,"e":-481.4},{"t":2330,"e":-481.9},{"t":2345,"e":-481.2},{"t":2360,"e":-481.8},{"t":2375,"e":-481.3},{"t":2390,"e":-481.7},{"t":2405,"e":-481.2},{"t":2420,"e":-481.9},{"t":2435,"e":-481.4},
  {"t":2450,"e":-481.8},{"t":2465,"e":-481.3},{"t":2480,"e":-481.7},{"t":2495,"e":-481.4},{"t":2510,"e":-481.9},{"t":2525,"e":-481.2},{"t":2540,"e":-481.8},{"t":2555,"e":-481.4},{"t":2570,"e":-481.7},{"t":2585,"e":-481.3},
  {"t":2600,"e":-481.9},{"t":2615,"e":-481.2},{"t":2630,"e":-481.7},{"t":2645,"e":-481.3},{"t":2660,"e":-481.8},{"t":2675,"e":-481.2},{"t":2690,"e":-481.9},{"t":2705,"e":-481.1},{"t":2720,"e":-481.8},{"t":2735,"e":-481.3},
  {"t":2750,"e":-482.0},{"t":2765,"e":-481.1},{"t":2780,"e":-481.9},{"t":2795,"e":-481.0},{"t":2810,"e":-482.1},{"t":2825,"e":-481.2},{"t":2840,"e":-482.2},{"t":2855,"e":-480.9},{"t":2870,"e":-481.9},{"t":2885,"e":-481.0},
  {"t":2900,"e":-482.0},{"t":2915,"e":-480.8},{"t":2930,"e":-482.1},{"t":2945,"e":-480.55},{"t":2960,"e":-481.9},{"t":2975,"e":-480.9},{"t":2990,"e":-482.2},{"t":3005,"e":-481.0},{"t":3020,"e":-481.8},{"t":3035,"e":-481.1},
  {"t":3050,"e":-482.0},{"t":3065,"e":-481.2},{"t":3080,"e":-481.9},{"t":3095,"e":-481.0},{"t":3110,"e":-481.8},{"t":3125,"e":-481.2},{"t":3140,"e":-482.0},{"t":3155,"e":-481.3},{"t":3170,"e":-481.8},{"t":3185,"e":-481.2},
  {"t":3200,"e":-481.9},{"t":3215,"e":-481.1},{"t":3230,"e":-481.8},{"t":3245,"e":-481.3},{"t":3260,"e":-482.0},{"t":3275,"e":-481.2},{"t":3290,"e":-481.8},{"t":3305,"e":-481.4},{"t":3320,"e":-481.9},{"t":3335,"e":-481.3},
  {"t":3350,"e":-481.7},{"t":3365,"e":-481.4},{"t":3380,"e":-481.8},{"t":3395,"e":-481.5},{"t":3410,"e":-481.7},{"t":3425,"e":-481.4},{"t":3440,"e":-481.8},{"t":3455,"e":-481.3},{"t":3470,"e":-481.7},{"t":3485,"e":-481.4},
  {"t":3500,"e":-481.9},{"t":3515,"e":-481.2},{"t":3530,"e":-481.8},{"t":3545,"e":-481.1},{"t":3560,"e":-482.0},{"t":3575,"e":-481.3},{"t":3590,"e":-481.9},{"t":3605,"e":-481.2},{"t":3620,"e":-481.7},{"t":3635,"e":-481.1},
  {"t":3650,"e":-482.0},{"t":3665,"e":-481.2},{"t":3680,"e":-481.8},{"t":3695,"e":-481.3},{"t":3710,"e":-482.0},{"t":3725,"e":-481.1},{"t":3740,"e":-481.9},{"t":3755,"e":-481.3},{"t":3770,"e":-481.8},{"t":3785,"e":-481.2},
  {"t":3800,"e":-481.9},{"t":3815,"e":-481.3},{"t":3830,"e":-482.0},{"t":3845,"e":-481.2},{"t":3860,"e":-481.8},{"t":3875,"e":-481.1},{"t":3890,"e":-481.9},{"t":3905,"e":-481.3},{"t":3920,"e":-481.7},{"t":3935,"e":-481.2},
  {"t":3950,"e":-481.9},{"t":3965,"e":-481.3},{"t":3980,"e":-481.8},{"t":3995,"e":-481.2},{"t":4010,"e":-482.0},{"t":4025,"e":-481.3},{"t":4040,"e":-481.8},{"t":4055,"e":-481.4},{"t":4070,"e":-481.9},{"t":4085,"e":-481.2},
  {"t":4100,"e":-481.7},{"t":4115,"e":-481.3},{"t":4130,"e":-481.9},{"t":4145,"e":-481.1},{"t":4160,"e":-481.8},{"t":4175,"e":-481.3},{"t":4190,"e":-482.0},{"t":4205,"e":-481.2},{"t":4220,"e":-481.8},{"t":4235,"e":-481.1},
  {"t":4250,"e":-481.9},{"t":4265,"e":-481.2},{"t":4280,"e":-482.0},{"t":4295,"e":-481.0},{"t":4310,"e":-481.8},{"t":4325,"e":-481.2},{"t":4340,"e":-481.9},{"t":4355,"e":-481.0},{"t":4370,"e":-482.1},{"t":4385,"e":-481.1},
  {"t":4400,"e":-481.8},{"t":4415,"e":-480.8},{"t":4430,"e":-482.0},{"t":4445,"e":-481.0},{"t":4460,"e":-481.9},{"t":4475,"e":-480.9},{"t":4490,"e":-482.1},{"t":4505,"e":-481.2},{"t":4520,"e":-481.8},{"t":4535,"e":-480.8},
  {"t":4550,"e":-482.1},{"t":4565,"e":-481.0},{"t":4580,"e":-481.9},{"t":4595,"e":-481.2},{"t":4610,"e":-482.0},{"t":4625,"e":-480.9},{"t":4640,"e":-481.8},{"t":4655,"e":-481.1},{"t":4670,"e":-482.1},{"t":4685,"e":-481.0},
  {"t":4700,"e":-481.8},{"t":4715,"e":-481.2},{"t":4730,"e":-482.0},{"t":4745,"e":-481.1},{"t":4760,"e":-481.9},{"t":4775,"e":-480.9},{"t":4790,"e":-482.2},{"t":4805,"e":-481.3},{"t":4820,"e":-481.8},{"t":4835,"e":-481.4},
  {"t":4850,"e":-481.9},{"t":4865,"e":-481.3},{"t":4880,"e":-481.8},{"t":4895,"e":-481.4},{"t":4910,"e":-481.9},{"t":4925,"e":-481.3},{"t":4940,"e":-481.8},{"t":4955,"e":-481.5},{"t":4970,"e":-481.7},{"t":4985,"e":-481.6},
  {"t":5000,"e":-480.9}
 ]
},
"vconcat": [
 {
  "width": 549, "height": 402,
  "resolve": {"scale": {"x": "independent", "y": "independent"}, "axis": {"x": "independent", "y": "independent"}},
  "layer": [
   {
    "layer": [
     {"data": {"name": "dots"}, "mark": {"type": "line", "stroke": "#1a1a1a", "strokeWidth": 1.1, "strokeDash": [1.2, 3.4]},
      "encoding": {
       "x": {"field": "n", "type": "quantitative", "scale": {"domain": [14.7, 210], "nice": false, "zero": false},
             "axis": {"orient": "bottom", "values": [25,50,75,100,125,150,175,200], "labelExpr": "datum.value % 50 === 0 ? datum.label : ''", "tickSize": 4, "labelFontSize": 20, "labelPadding": 12, "title": "Number of Silicon atoms", "titleFontSize": 20, "titlePadding": 13}},
       "y": {"field": "e", "type": "quantitative", "scale": {"domain": [-4.75, -0.44], "nice": false, "zero": false},
             "axis": {"orient": "left", "values": [-4.5,-4,-3.5,-3,-2.5,-2,-1.5,-1,-0.5], "labelExpr": "datum.value % 1 === 0 ? replace(format(datum.value, 'd'), '−', '-') : ''", "tickSize": 4, "labelFontSize": 20, "labelPadding": 3, "title": "Formation Energy(eV/atom)", "titleFontSize": 20, "titlePadding": 33}},
       "detail": {"field": "m", "type": "nominal"}
      }},
     {"data": {"name": "ser"}, "mark": {"type": "line", "strokeWidth": 3},
      "encoding": {
       "x": {"field": "n", "type": "quantitative", "scale": {"domain": [14.7, 210], "nice": false, "zero": false}},
       "y": {"field": "e", "type": "quantitative", "scale": {"domain": [-4.75, -0.44], "nice": false, "zero": false}},
       "stroke": {"field": "s", "type": "nominal", "sort": ["μH = −5.0","μH = −4.0","μH = −3.0","μH = −2.3"],
         "scale": {"range": ["#111111","#ee1c24","#2e4f9e","#6abf4b"]},
         "legend": {"title": null, "orient": "none", "legendX": 3.5, "legendY": 0, "direction": "horizontal", "columns": 2, "symbolType": "stroke", "symbolSize": 1024, "symbolStrokeWidth": 3, "symbolOffset": 0, "labelOffset": 6.5, "clipHeight": 20, "rowPadding": 11.7, "columnPadding": 4, "zindex": 0}}
      }},
     {"data": {"name": "ser"}, "mark": {"type": "point", "filled": true, "size": 120, "stroke": "white", "strokeWidth": 1.5, "opacity": 1},
      "encoding": {
       "x": {"field": "n", "type": "quantitative", "scale": {"domain": [14.7, 210], "nice": false, "zero": false}},
       "y": {"field": "e", "type": "quantitative", "scale": {"domain": [-4.75, -0.44], "nice": false, "zero": false}},
       "shape": {"field": "s", "type": "nominal",
         "scale": {"domain": ["μH = −5.0","μH = −4.0","μH = −3.0","μH = −2.3"], "range": ["triangle-down","triangle-up","square","circle"]},
         "legend": {"title": null, "orient": "none", "legendX": 3.5, "legendY": 0, "direction": "horizontal", "columns": 2, "symbolSize": 120, "symbolStrokeWidth": 1.5, "symbolStrokeColor": "white", "symbolOffset": 8.5, "labelOffset": 23.5, "labelExpr": "''", "clipHeight": 20, "rowPadding": 11.7, "columnPadding": 79, "zindex": 1}},
       "fill": {"field": "s", "type": "nominal",
         "scale": {"domain": ["μH = −5.0","μH = −4.0","μH = −3.0","μH = −2.3"], "range": ["#111111","#ee1c24","#2e4f9e","#6abf4b"]},
         "legend": {"title": null, "orient": "none", "legendX": 3.5, "legendY": 0, "direction": "horizontal", "columns": 2, "symbolSize": 120, "symbolStrokeWidth": 1.5, "symbolStrokeColor": "white", "symbolOffset": 8.5, "labelOffset": 23.5, "labelExpr": "''", "clipHeight": 20, "rowPadding": 11.7, "columnPadding": 79, "zindex": 1}}
      }},
     {"data": {"values": [{}]}, "mark": {"type": "text", "fontSize": 20, "align": "center", "baseline": "middle"},
      "encoding": {
       "x": {"datum": -10, "type": "quantitative", "scale": {"domain": [14.7, 210], "nice": false, "zero": false}},
       "y": {"datum": -0.63, "type": "quantitative", "scale": {"domain": [-4.75, -0.44], "nice": false, "zero": false}},
       "text": {"value": "(a)"}
      }}
    ]
   },
   {
    "layer": [
     {"data": {"name": "zones"}, "transform": [{"filter": "datum.z === 'b'"}], "mark": {"type": "area", "color": "#9db4da", "opacity": 1},
      "encoding": {
       "x": {"field": "n", "type": "quantitative", "scale": {"domain": [22.4, 175.8], "range": [321.7, 545.7], "nice": false, "zero": false},
             "axis": {"orient": "bottom", "offset": -233.3, "values": [50,100,150], "tickSize": 3, "labelFontSize": 10, "labelPadding": 2, "domain": true, "domainColor": "#333", "domainWidth": 1, "title": "Number of Silicon atoms", "titleFontSize": 10, "titlePadding": 6}},
       "y": {"field": "lo", "type": "quantitative", "scale": {"domain": [-5, -2.3], "range": [168.7, 4.7], "nice": false, "zero": false},
             "axis": {"orient": "left", "offset": -321.7, "values": [-5,-4,-3], "labelExpr": "replace(format(datum.value, 'd'), '−', '-')", "tickSize": 3, "labelFontSize": 10, "labelPadding": 3, "domain": true, "domainColor": "#333", "domainWidth": 1, "title": "Hydrogen chemical potential(eV)", "titleFontSize": 10, "titlePadding": 16}},
       "y2": {"field": "hi"}
      }},
     {"data": {"name": "zones"}, "transform": [{"filter": "datum.z === 'g'"}], "mark": {"type": "area", "color": "#5cbf7e", "opacity": 1},
      "encoding": {
       "x": {"field": "n", "type": "quantitative", "scale": {"domain": [22.4, 175.8], "range": [321.7, 545.7], "nice": false, "zero": false}},
       "y": {"field": "lo", "type": "quantitative", "scale": {"domain": [-5, -2.3], "range": [168.7, 4.7], "nice": false, "zero": false}},
       "y2": {"field": "hi"}
      }},
     {"data": {"name": "zones"}, "transform": [{"filter": "datum.z === 'r'"}], "mark": {"type": "area", "color": "#ee4444", "opacity": 1},
      "encoding": {
       "x": {"field": "n", "type": "quantitative", "scale": {"domain": [22.4, 175.8], "range": [321.7, 545.7], "nice": false, "zero": false}},
       "y": {"field": "lo", "type": "quantitative", "scale": {"domain": [-5, -2.3], "range": [168.7, 4.7], "nice": false, "zero": false}},
       "y2": {"field": "hi"}
      }},
     {"data": {"name": "zones"}, "transform": [{"filter": "datum.z !== 'r'"}], "mark": {"type": "line", "color": "#34508f", "strokeWidth": 1.2},
      "encoding": {
       "x": {"field": "n", "type": "quantitative", "scale": {"domain": [22.4, 175.8], "range": [321.7, 545.7], "nice": false, "zero": false}},
       "y": {"field": "lo", "type": "quantitative", "scale": {"domain": [-5, -2.3], "range": [168.7, 4.7], "nice": false, "zero": false}},
       "detail": {"field": "z", "type": "nominal"}
      }},
     {"data": {"name": "segs"}, "transform": [{"filter": "datum.z === 'b'"}], "mark": {"type": "rule", "color": "#2a4a86", "strokeWidth": 2.5},
      "encoding": {
       "x": {"field": "n", "type": "quantitative", "scale": {"domain": [22.4, 175.8], "range": [321.7, 545.7], "nice": false, "zero": false}},
       "y": {"field": "lo", "type": "quantitative", "scale": {"domain": [-5, -2.3], "range": [168.7, 4.7], "nice": false, "zero": false}},
       "y2": {"field": "hi"}
      }},
     {"data": {"name": "segs"}, "transform": [{"filter": "datum.z === 'g'"}], "mark": {"type": "rule", "color": "#14793a", "strokeWidth": 2.5},
      "encoding": {
       "x": {"field": "n", "type": "quantitative", "scale": {"domain": [22.4, 175.8], "range": [321.7, 545.7], "nice": false, "zero": false}},
       "y": {"field": "lo", "type": "quantitative", "scale": {"domain": [-5, -2.3], "range": [168.7, 4.7], "nice": false, "zero": false}},
       "y2": {"field": "hi"}
      }},
     {"data": {"name": "segs"}, "transform": [{"filter": "datum.z === 'r'"}], "mark": {"type": "rule", "color": "#b3282d", "strokeWidth": 2.5},
      "encoding": {
       "x": {"field": "n", "type": "quantitative", "scale": {"domain": [22.4, 175.8], "range": [321.7, 545.7], "nice": false, "zero": false}},
       "y": {"field": "lo", "type": "quantitative", "scale": {"domain": [-5, -2.3], "range": [168.7, 4.7], "nice": false, "zero": false}},
       "y2": {"field": "hi"}
      }}
    ]
   }
  ]
 },
 {
  "width": 549, "height": 383,
  "resolve": {"scale": {"y": "independent"}, "axis": {"x": "independent", "y": "independent"}},
  "layer": [
   {
    "layer": [
     {"data": {"name": "p1"}, "mark": {"type": "line", "stroke": "#222", "strokeWidth": 0.9},
      "encoding": {
       "x": {"field": "t", "type": "quantitative", "scale": {"domain": [500, 5000], "nice": false, "zero": false},
             "axis": {"orient": "bottom", "offset": -260, "values": [1000,1500,2000,2500,3000,3500,4000,4500], "tickSize": 8, "labels": false, "title": null}},
       "y": {"field": "e", "type": "quantitative", "scale": {"domain": [-552.5, -548.5], "range": [127, 0], "nice": false, "zero": false},
             "axis": {"orient": "left", "values": [-552,-551.5,-551,-550.5,-550,-549.5,-549], "labelExpr": "datum.value % 1 === 0 ? replace(format(datum.value, 'd'), '−', '-') : ''", "tickSize": 4, "labelFontSize": 15, "labelPadding": 3, "title": null}}
      }},
     {"data": {"values": [{}]}, "mark": {"type": "text", "fontSize": 21, "fontWeight": "bold", "align": "center", "baseline": "alphabetic"},
      "encoding": {
       "x": {"datum": 3565, "type": "quantitative", "scale": {"domain": [500, 5000], "nice": false, "zero": false},
             "axis": {"orient": "top", "offset": -4, "values": [1000,1500,2000,2500,3000,3500,4000,4500], "tickSize": 4, "labels": false, "title": null}},
       "y": {"datum": -549.37, "type": "quantitative", "scale": {"domain": [-552.5, -548.5], "range": [127, 0], "nice": false, "zero": false}},
       "text": {"value": "Si₆₈H₅₆"}
      }},
     {"data": {"values": [{}]}, "mark": {"type": "text", "fontSize": 20, "align": "center", "baseline": "middle"},
      "encoding": {
       "x": {"datum": -41, "type": "quantitative", "scale": {"domain": [500, 5000], "nice": false, "zero": false}, "axis": null},
       "y": {"datum": -549.0, "type": "quantitative", "scale": {"domain": [-552.5, -548.5], "range": [127, 0], "nice": false, "zero": false}},
       "text": {"value": "(b)"}
      }}
    ]
   },
   {
    "layer": [
     {"data": {"name": "p2"}, "mark": {"type": "line", "stroke": "#222", "strokeWidth": 0.9},
      "encoding": {
       "x": {"field": "t", "type": "quantitative", "scale": {"domain": [500, 5000], "nice": false, "zero": false},
             "axis": {"orient": "bottom", "offset": -132, "values": [1000,1500,2000,2500,3000,3500,4000,4500], "tickSize": 8, "labels": false, "title": null}},
       "y": {"field": "e", "type": "quantitative", "scale": {"domain": [-371.5, -368.5], "range": [255, 127], "nice": false, "zero": false},
             "axis": {"orient": "left", "values": [-371,-370.5,-370,-369.5,-369], "labelExpr": "datum.value % 1 === 0 ? replace(format(datum.value, 'd'), '−', '-') : ''", "tickSize": 4, "labelFontSize": 15, "labelPadding": 3, "title": "Total Energies(eV)", "titleFontSize": 21, "titlePadding": 18}}
      }},
     {"data": {"values": [{}]}, "mark": {"type": "text", "fontSize": 21, "fontWeight": "bold", "align": "center", "baseline": "alphabetic"},
      "encoding": {
       "x": {"datum": 3549, "type": "quantitative", "scale": {"domain": [500, 5000], "nice": false, "zero": false}},
       "y": {"datum": -369.25, "type": "quantitative", "scale": {"domain": [-371.5, -368.5], "range": [255, 127], "nice": false, "zero": false}},
       "text": {"value": "Si₅₀H₃₂"}
      }},
     {"data": {"values": [{}]}, "mark": {"type": "rule", "stroke": "#000", "strokeWidth": 1.5},
      "encoding": {
       "y": {"datum": -368.5, "type": "quantitative", "scale": {"domain": [-371.5, -368.5], "range": [255, 127], "nice": false, "zero": false}}
      }}
    ]
   },
   {
    "layer": [
     {"data": {"name": "p3"}, "mark": {"type": "line", "stroke": "#222", "strokeWidth": 0.9},
      "encoding": {
       "x": {"field": "t", "type": "quantitative", "scale": {"domain": [500, 5000], "nice": false, "zero": false},
             "axis": {"orient": "bottom", "offset": -4, "values": [1000,1500,2000,2500,3000,3500,4000,4500,5000], "labelExpr": "datum.value % 1000 === 0 ? format(datum.value, 'd') : ''", "tickSize": 4, "labelFontSize": 16, "labelPadding": 6, "title": "Steps", "titleFontSize": 21, "titlePadding": 20}},
       "y": {"field": "e", "type": "quantitative", "scale": {"domain": [-483.1, -480.1], "range": [383, 255], "nice": false, "zero": false},
             "axis": {"orient": "left", "values": [-483,-482.5,-482,-481.5,-481,-480.5], "labelExpr": "datum.value % 1 === 0 ? replace(format(datum.value, 'd'), '−', '-') : ''", "tickSize": 4, "labelFontSize": 15, "labelPadding": 3, "title": null}}
      }},
     {"data": {"values": [{}]}, "mark": {"type": "text", "fontSize": 21, "fontWeight": "bold", "align": "center", "baseline": "alphabetic"},
      "encoding": {
       "x": {"datum": 3596, "type": "quantitative", "scale": {"domain": [500, 5000], "nice": false, "zero": false}},
       "y": {"datum": -480.78, "type": "quantitative", "scale": {"domain": [-483.1, -480.1], "range": [383, 255], "nice": false, "zero": false}},
       "text": {"value": "Si₇₀H₃₆"}
      }},
     {"data": {"values": [{}]}, "mark": {"type": "rule", "stroke": "#000", "strokeWidth": 1.5},
      "encoding": {
       "y": {"datum": -480.1, "type": "quantitative", "scale": {"domain": [-483.1, -480.1], "range": [383, 255], "nice": false, "zero": false}}
      }}
    ]
   }
  ]
 }
]
}
